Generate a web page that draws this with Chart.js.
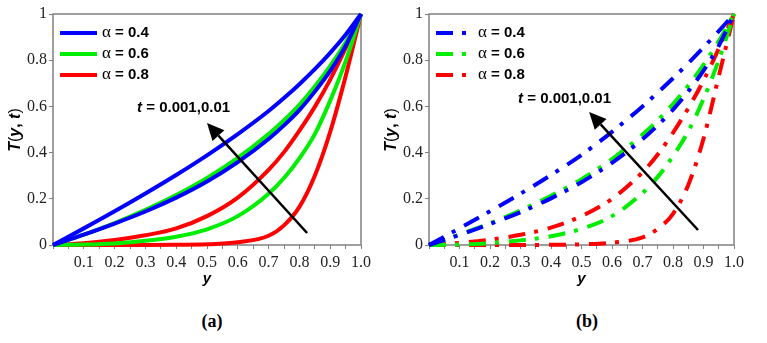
<!DOCTYPE html>
<html>
<head>
<meta charset="utf-8">
<script src="https://cdn.jsdelivr.net/npm/chart.js@4.4.1/dist/chart.umd.min.js"></script>
<style>
  body { margin: 0; background: #fff; width: 767px; height: 343px; position: relative; overflow: hidden; }
  canvas { position: absolute; top: 0; }
  #chartA { left: 0; }
  #chartB { left: 376px; }
  .cap { position: absolute; top: 311px; font: bold 18px "Liberation Serif", "Times New Roman", serif; transform: translateX(-50%); }
</style>
</head>
<body>
<canvas id="chartA" width="383" height="300"></canvas>
<canvas id="chartB" width="383" height="300"></canvas>
<div class="cap" style="left:212px">(a)</div>
<div class="cap" style="left:587px">(b)</div>
<script>
// x positions (y coordinate in the plot) shared by every curve
const yPos = [0, 0.1, 0.2, 0.3, 0.4, 0.5, 0.6, 0.7, 0.75, 0.8, 0.85, 0.9, 0.95, 1.0];
const alphaLabels = ['α = 0.4', 'α = 0.6', 'α = 0.8'];
const alphaColors = ['#0000ff', '#00ee00', '#ff0000'];

// panel (a), T(y,t) for t = 0.001 and t = 0.01
const a_04_t0001 = [0, 0.045, 0.093, 0.145, 0.205, 0.275, 0.359, 0.459, 0.518, 0.584, 0.664, 0.754, 0.862, 1];
const a_04_t001  = [0, 0.072, 0.146, 0.223, 0.303, 0.388, 0.48, 0.58, 0.636, 0.696, 0.761, 0.832, 0.91, 1];
const a_06_t0001 = [0, 0.002, 0.007, 0.018, 0.036, 0.068, 0.125, 0.222, 0.29, 0.375, 0.48, 0.625, 0.795, 1];
const a_06_t001  = [0, 0.045, 0.095, 0.152, 0.216, 0.29, 0.377, 0.48, 0.54, 0.607, 0.686, 0.775, 0.876, 1];
const a_08_t0001 = [0, 0, 0, 0, 0.001, 0.003, 0.012, 0.04, 0.085, 0.165, 0.3, 0.49, 0.73, 1];
const a_08_t001  = [0, 0.008, 0.022, 0.042, 0.072, 0.125, 0.205, 0.325, 0.402, 0.495, 0.598, 0.716, 0.852, 1];

// panel (b)
const b_04_t0001 = [0, 0.044, 0.091, 0.142, 0.202, 0.272, 0.356, 0.458, 0.518, 0.586, 0.665, 0.755, 0.862, 1];
const b_04_t001  = [0, 0.072, 0.146, 0.222, 0.303, 0.39, 0.49, 0.6, 0.66, 0.722, 0.787, 0.855, 0.926, 1];
const b_06_t0001 = [0, 0.002, 0.008, 0.02, 0.038, 0.07, 0.125, 0.225, 0.295, 0.385, 0.492, 0.632, 0.80, 1];
const b_06_t001  = [0, 0.045, 0.094, 0.15, 0.213, 0.285, 0.372, 0.478, 0.54, 0.61, 0.69, 0.78, 0.882, 1];
const b_08_t0001 = [0, 0, 0, 0, 0.001, 0.003, 0.01, 0.033, 0.07, 0.135, 0.26, 0.46, 0.73, 1];
const b_08_t001  = [0, 0.009, 0.023, 0.044, 0.075, 0.125, 0.2, 0.315, 0.392, 0.486, 0.592, 0.712, 0.85, 1];

const timeLabel = 't = 0.001,0.01';

const SERIF = '"Liberation Serif", "Times New Roman", serif';
const SANS = '"Liberation Sans", Arial, sans-serif';

function pts(vals) {
  return vals.map((v, i) => ({ x: yPos[i], y: v }));
}

function makeSets(series, dash) {
  return series.map((vals, i) => ({
    data: pts(vals),
    borderColor: alphaColors[Math.floor(i / 2)],
    borderWidth: 4,
    borderDash: dash,
    pointRadius: 0,
    cubicInterpolationMode: 'monotone',
    clip: false
  }));
}

// frame, legend, y title, arrow and time label
const decor = {
  id: 'decor',
  beforeDatasetsDraw(chart) {
    const { ctx, chartArea: ca } = chart;
    ctx.save();
    ctx.strokeStyle = '#808080';
    ctx.lineWidth = 1.5;
    ctx.strokeRect(ca.left, ca.top, ca.right - ca.left, ca.bottom - ca.top);
    ctx.restore();
  },
  afterDraw(chart, args, opts) {
    const { ctx, chartArea: ca, scales: { x, y } } = chart;
    ctx.save();

    // legend
    ctx.textBaseline = 'middle';
    alphaLabels.forEach((lab, i) => {
      const ly = ca.top + 19 + i * 21;
      ctx.strokeStyle = alphaColors[i];
      ctx.lineWidth = 4;
      ctx.setLineDash(opts.dash);
      ctx.beginPath();
      ctx.moveTo(ca.left + 7, ly);
      ctx.lineTo(ca.left + 44, ly);
      ctx.stroke();
      ctx.setLineDash([]);
      ctx.fillStyle = '#000';
      ctx.font = '17px ' + SERIF;
      const a = lab.slice(0, 1);
      ctx.fillText(a, ca.left + 49, ly);
      const w = ctx.measureText(a).width;
      ctx.font = 'bold 15px ' + SANS;
      ctx.fillText(lab.slice(1), ca.left + 49 + w, ly);
    });

    // y axis title T(y, t)
    const parts = [['T', 'italic bold 16px '], ['(', '16px '], ['y', 'italic bold 16px '],
                   [', ', 'bold 16px '], ['t', 'italic bold 16px '], [')', '16px ']];
    ctx.translate(ca.left - 37, ca.top + 116);
    ctx.rotate(-Math.PI / 2);
    let total = 0;
    parts.forEach(p => { ctx.font = p[1] + SANS; total += ctx.measureText(p[0]).width; });
    let px = -total / 2;
    parts.forEach(p => {
      ctx.font = p[1] + SANS;
      ctx.fillText(p[0], px, 0);
      px += ctx.measureText(p[0]).width;
    });
    ctx.setTransform(1, 0, 0, 1, 0, 0);

    // time label
    const tx = x.getPixelForValue(opts.text[0]);
    const ty = y.getPixelForValue(opts.text[1]);
    ctx.font = 'italic bold 15px ' + SANS;
    ctx.fillText('t', tx, ty);
    const tw = ctx.measureText('t').width;
    ctx.font = 'bold 15px ' + SANS;
    ctx.fillText(timeLabel.slice(1), tx + tw, ty);

    // arrow
    const x0 = x.getPixelForValue(opts.arrow[0]), y0 = y.getPixelForValue(opts.arrow[1]);
    const x1 = x.getPixelForValue(opts.arrow[2]), y1 = y.getPixelForValue(opts.arrow[3]);
    const ang = Math.atan2(y1 - y0, x1 - x0);
    const hl = 17, hw = 8;
    const bx = x1 - hl * Math.cos(ang), by = y1 - hl * Math.sin(ang);
    ctx.strokeStyle = '#000';
    ctx.lineWidth = 2.5;
    ctx.beginPath();
    ctx.moveTo(x0, y0);
    ctx.lineTo(bx, by);
    ctx.stroke();
    ctx.fillStyle = '#000';
    ctx.beginPath();
    ctx.moveTo(x1, y1);
    ctx.lineTo(bx + hw * Math.sin(ang), by - hw * Math.cos(ang));
    ctx.lineTo(bx - hw * Math.sin(ang), by + hw * Math.cos(ang));
    ctx.closePath();
    ctx.fill();

    ctx.restore();
  }
};

function makeChart(id, series, dash, padRight, textPos, arrowPos) {
  return new Chart(document.getElementById(id), {
    type: 'line',
    data: { datasets: makeSets(series, dash) },
    plugins: [decor],
    options: {
      responsive: false,
      animation: false,
      devicePixelRatio: 1,
      layout: { padding: { left: 0, right: padRight, top: 14, bottom: 8 } },
      plugins: {
        legend: { display: false },
        tooltip: { enabled: false },
        decor: { dash: dash, text: textPos, arrow: arrowPos }
      },
      scales: {
        x: {
          type: 'linear',
          min: 0, max: 1,
          afterFit: s => { s.height = 47; },
          border: { display: false },
          grid: { drawOnChartArea: false, drawTicks: true, tickLength: 4, color: '#808080' },
          ticks: {
            stepSize: 0.05,
            autoSkip: false,
            maxRotation: 0,
            padding: 4,
            color: '#222',
            font: { family: SERIF, size: 16 },
            callback: (v, i) => (i > 0 && i % 2 === 0) ? v.toFixed(1) : ''
          },
          title: { display: true, text: 'y', color: '#000', font: { family: SANS, size: 15, style: 'italic', weight: 'bold' } }
        },
        y: {
          min: 0, max: 1,
          afterFit: s => { s.width = 53; },
          border: { display: false },
          grid: { drawOnChartArea: false, drawTicks: true, tickLength: 4, color: '#808080' },
          ticks: {
            stepSize: 0.2,
            padding: 2,
            color: '#222',
            font: { family: SERIF, size: 16 },
            callback: v => (v === 0 || v === 1) ? String(v) : v.toFixed(1)
          }
        }
      }
    }
  });
}

makeChart('chartA',
  [a_04_t0001, a_04_t001, a_06_t0001, a_06_t001, a_08_t0001, a_08_t001],
  [], 22, [0.273, 0.593], [0.825, 0.052, 0.50, 0.528]);

makeChart('chartB',
  [b_04_t0001, b_04_t001, b_06_t0001, b_06_t001, b_08_t0001, b_08_t001],
  [17, 9, 4, 10], 25, [0.292, 0.632], [0.882, 0.065, 0.525, 0.576]);
</script>
</body>
</html>
